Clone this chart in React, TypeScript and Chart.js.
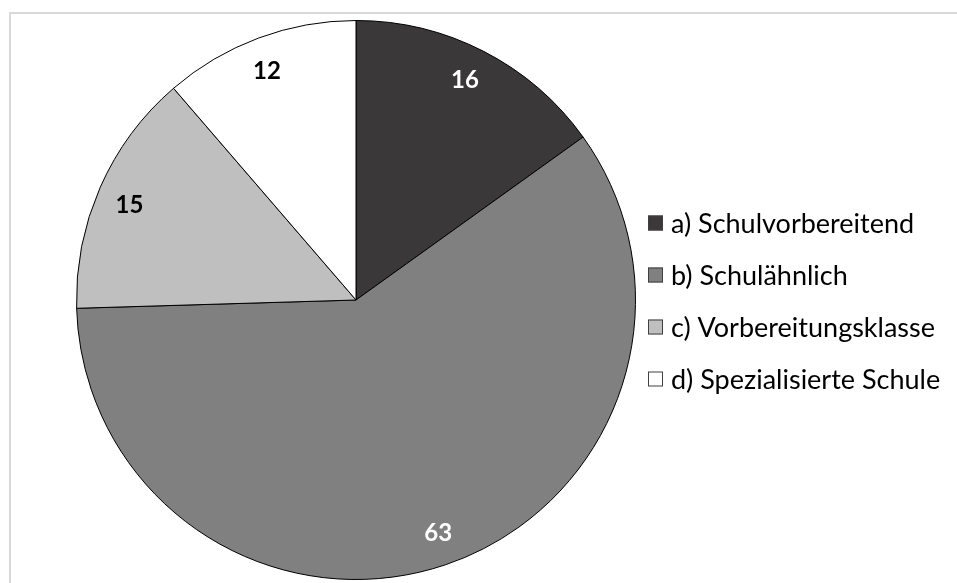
import { useEffect, useRef } from "react";
import { Chart, registerables } from "chart.js";

Chart.register(...registerables);

// Pie data: school type shares
const categories = [
  "a) Schulvorbereitend",
  "b) Schulähnlich",
  "c) Vorbereitungsklasse",
  "d) Spezialisierte Schule",
];
const values = [16, 63, 15, 12];
const sliceColors = ["#3a3838", "#808080", "#bfbfbf", "#ffffff"];
const valueLabelColors = ["#ffffff", "#ffffff", "#000000", "#000000"];

const FONT = "Lato, 'Open Sans', sans-serif";

// Light frame along the top and left edge of the chart area
const framePlugin = {
  id: "frame",
  beforeDraw(chart: any) {
    const { ctx } = chart;
    ctx.save();
    ctx.strokeStyle = "#d9d9d9";
    ctx.lineWidth = 2;
    ctx.beginPath();
    ctx.moveTo(10, chart.height);
    ctx.lineTo(10, 13);
    ctx.lineTo(chart.width, 13);
    ctx.stroke();
    ctx.restore();
  },
};

// Value labels placed inside each slice along its bisector
const valueLabelPlugin = {
  id: "valueLabels",
  afterDatasetsDraw(chart: any) {
    const { ctx } = chart;
    const meta = chart.getDatasetMeta(0);
    const data = chart.data.datasets[0].data as number[];
    ctx.save();
    ctx.font = `bold 24px ${FONT}`;
    ctx.textAlign = "center";
    ctx.textBaseline = "middle";
    meta.data.forEach((arc: any, i: number) => {
      const { x, y, startAngle, endAngle, outerRadius } = arc.getProps(
        ["x", "y", "startAngle", "endAngle", "outerRadius"],
        true
      );
      const mid = (startAngle + endAngle) / 2 - 0.015;
      const r = outerRadius * 0.88;
      ctx.fillStyle = valueLabelColors[i];
      ctx.fillText(String(data[i]), x + Math.cos(mid) * r, y + Math.sin(mid) * r + 1);
    });
    ctx.restore();
  },
};

// Legend list to the right of the pie
const legendPlugin = {
  id: "sideLegend",
  afterDraw(chart: any) {
    const { ctx } = chart;
    const left = 648;
    const box = 15;
    const firstRow = 223;
    const rowGap = 52;
    ctx.save();
    ctx.font = `27px ${FONT}`;
    ctx.textBaseline = "alphabetic";
    ctx.textAlign = "left";
    categories.forEach((label, i) => {
      const cy = firstRow + i * rowGap;
      ctx.fillStyle = sliceColors[i];
      ctx.fillRect(left, cy - box / 2, box, box);
      ctx.strokeStyle = "#404040";
      ctx.lineWidth = 1;
      ctx.strokeRect(left + 0.5, cy - box / 2 + 0.5, box - 1, box - 1);
      ctx.fillStyle = "#000000";
      ctx.fillText(label, left + 23, cy + 10);
    });
    ctx.restore();
  },
};

export default function App() {
  const canvasRef = useRef<HTMLCanvasElement | null>(null);

  useEffect(() => {
    if (!canvasRef.current) return;
    const chart = new Chart(canvasRef.current, {
      type: "pie",
      data: {
        labels: categories,
        datasets: [
          {
            data: values,
            backgroundColor: sliceColors,
            borderColor: "#000000",
            borderWidth: 1,
          },
        ],
      },
      options: {
        animation: false,
        responsive: false,
        maintainAspectRatio: false,
        layout: { padding: { left: 76, top: 20, right: 321, bottom: 3 } },
        plugins: {
          legend: { display: false },
          tooltip: { enabled: false },
        },
      },
      plugins: [framePlugin, valueLabelPlugin, legendPlugin],
    });
    return () => chart.destroy();
  }, []);

  return (
    <div
      style={{
        position: "fixed",
        left: 0,
        top: 0,
        width: 957,
        height: 583,
        background: "#ffffff",
      }}
    >
      <canvas ref={canvasRef} width={957} height={583} style={{ display: "block" }} />
    </div>
  );
}
